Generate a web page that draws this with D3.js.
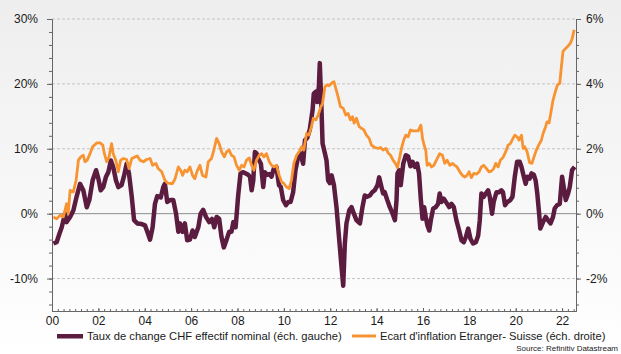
<!DOCTYPE html>
<html>
<head>
<meta charset="utf-8">
<script src="https://cdn.jsdelivr.net/npm/d3@7"></script>
<style>
  body { margin: 0; }
  svg { display: block; font-family: "Liberation Sans", Arial, sans-serif; }
</style>
</head>
<body>
<svg id="chart"></svg>
<script>
// CHF effective nominal exchange rate, % y/y (left scale)
const chfYears = [2000.06,2000.20,2000.32,2000.42,2000.56,2000.63,2000.78,2000.92,2001.06,2001.21,2001.35,2001.50,2001.61,2001.75,2001.90,
  2002.00,2002.10,2002.21,2002.33,2002.43,2002.54,2002.64,2002.76,2002.86,2003.00,2003.10,2003.22,2003.32,2003.44,2003.54,2003.68,2003.87,
  2004.01,2004.11,2004.23,2004.34,2004.44,2004.54,2004.69,2004.80,2004.87,2004.97,2005.09,2005.23,2005.35,2005.45,2005.52,2005.63,2005.73,
  2005.83,2005.95,2006.06,2006.16,2006.31,2006.41,2006.52,2006.64,2006.78,2006.90,2007.00,2007.10,2007.21,2007.31,2007.41,2007.53,2007.64,
  2007.74,2007.82,2007.92,2008.03,2008.13,2008.25,2008.36,2008.46,2008.54,2008.61,2008.68,2008.75,2008.82,2008.89,2009.01,2009.11,2009.18,
  2009.28,2009.37,2009.47,2009.57,2009.68,2009.79,2009.87,2009.97,2010.09,2010.19,2010.29,2010.40,2010.50,2010.62,2010.72,2010.83,2010.91,
  2011.01,2011.12,2011.24,2011.29,2011.38,2011.44,2011.51,2011.55,2011.62,2011.67,2011.77,2011.84,2011.91,2011.98,2012.06,2012.16,2012.27,
  2012.39,2012.49,2012.56,2012.63,2012.70,2012.82,2012.92,2013.02,2013.13,2013.28,2013.39,2013.49,2013.59,2013.71,2013.81,2013.92,2014.04,
  2014.11,2014.21,2014.28,2014.35,2014.46,2014.57,2014.69,2014.79,2014.86,2014.90,2014.97,2015.04,2015.15,2015.26,2015.36,2015.46,2015.55,
  2015.65,2015.75,2015.83,2015.91,2015.98,2016.05,2016.12,2016.19,2016.27,2016.34,2016.44,2016.55,2016.65,2016.72,2016.80,2016.90,2017.01,
  2017.13,2017.23,2017.33,2017.44,2017.56,2017.66,2017.76,2017.85,2017.95,2018.05,2018.16,2018.28,2018.38,2018.45,2018.52,2018.62,2018.71,
  2018.81,2018.88,2018.98,2019.05,2019.17,2019.28,2019.38,2019.45,2019.54,2019.64,2019.77,2019.86,2019.96,2020.06,2020.17,2020.25,2020.35,
  2020.43,2020.50,2020.60,2020.68,2020.78,2020.86,2020.93,2021.01,2021.06,2021.18,2021.29,2021.39,2021.50,2021.61,2021.68,2021.78,2021.90,
  2022.00,2022.07,2022.16,2022.26,2022.33,2022.43,2022.54];
const chfValues = [-4.6,-4.4,-3.1,-2.1,0.0,-1.3,-0.5,0.5,2.6,4.6,3.6,1.0,2.1,5.1,6.7,
  5.4,3.6,4.1,5.7,6.4,8.2,7.2,5.1,4.1,4.4,5.7,7.7,6.2,2.6,-1.0,-1.5,-1.6,
  -1.8,-2.8,-4.0,-2.1,1.5,2.7,2.5,4.1,4.6,1.8,2.1,2.1,0.0,-2.8,-1.5,-2.8,-1.5,
  -4.1,-4.0,-2.6,-3.6,-2.1,0.0,0.6,-0.5,-1.3,-0.8,-2.1,-0.5,-0.8,-3.6,-5.2,-4.0,-2.8,
  -2.8,-1.3,-2.1,2.8,6.2,6.4,6.2,6.0,5.7,3.6,5.1,9.5,9.3,8.5,7.7,4.1,6.4,
  6.0,6.1,5.7,7.0,7.2,4.4,4.1,2.1,1.3,1.8,1.8,3.3,6.7,8.8,9.3,7.7,11.3,
  11.7,13.0,16.0,18.5,18.8,17.2,19.6,23.2,16.5,10.8,9.3,8.2,5.1,4.7,5.9,4.4,1.0,
  -4.1,-8.3,-11.1,-4.6,-1.5,0.5,1.0,0.0,-1.0,-1.5,1.0,2.8,2.6,2.8,3.3,3.6,4.4,
  5.6,4.1,3.1,3.3,2.1,1.0,0.0,-1.0,2.1,6.2,6.7,4.4,7.7,9.0,8.8,7.3,8.0,
  7.2,7.7,6.2,2.1,-0.8,1.0,-0.5,-1.8,-2.6,-1.0,0.8,1.0,1.5,3.1,1.8,2.3,1.7,
  1.0,1.5,1.0,-1.0,-2.6,-4.1,-4.4,-3.6,-2.3,-3.9,-4.6,-4.4,-3.4,-1.0,3.1,2.6,3.1,
  3.6,2.6,0.0,1.8,3.3,3.3,3.6,3.3,1.3,1.8,2.1,2.6,5.7,8.0,8.0,7.2,5.7,
  4.6,5.7,5.4,6.2,6.0,5.1,3.1,0.0,-2.3,-1.3,-0.5,-1.0,-1.5,-0.5,0.8,1.3,1.5,
  5.7,4.1,2.1,3.1,4.1,6.7,7.2];

// Inflation gap abroad minus Switzerland, % (right scale)
const gapYears = [2000.06,2000.20,2000.35,2000.49,2000.63,2000.70,2000.78,2000.92,2001.04,2001.14,2001.24,2001.35,2001.42,2001.52,2001.64,
  2001.75,2001.93,2002.07,2002.19,2002.26,2002.36,2002.46,2002.57,2002.64,2002.75,2002.86,2002.96,2003.08,2003.22,2003.32,2003.44,2003.58,
  2003.68,2003.79,2003.94,2004.08,2004.23,2004.34,2004.48,2004.58,2004.73,2004.87,2004.97,2005.09,2005.20,2005.30,2005.45,2005.55,2005.63,
  2005.73,2005.83,2005.95,2006.06,2006.16,2006.26,2006.38,2006.49,2006.64,2006.74,2006.88,2006.98,2007.10,2007.21,2007.31,2007.43,2007.53,
  2007.64,2007.74,2007.85,2007.96,2008.08,2008.18,2008.28,2008.39,2008.51,2008.61,2008.71,2008.82,2008.94,2009.04,2009.14,2009.25,2009.37,
  2009.47,2009.58,2009.68,2009.80,2009.90,2010.00,2010.12,2010.23,2010.33,2010.43,2010.55,2010.66,2010.76,2010.86,2010.98,2011.08,2011.19,
  2011.27,2011.38,2011.48,2011.60,2011.67,2011.77,2011.87,2011.95,2012.06,2012.16,2012.24,2012.34,2012.44,2012.56,2012.67,2012.77,2012.87,
  2012.96,2013.03,2013.13,2013.25,2013.35,2013.45,2013.56,2013.68,2013.78,2013.92,2014.07,2014.17,2014.28,2014.40,2014.50,2014.60,2014.71,
  2014.81,2014.90,2015.00,2015.07,2015.17,2015.26,2015.36,2015.46,2015.58,2015.69,2015.79,2015.91,2015.98,2016.05,2016.12,2016.18,2016.27,
  2016.37,2016.47,2016.58,2016.72,2016.84,2016.94,2017.04,2017.16,2017.27,2017.37,2017.47,2017.59,2017.70,2017.80,2017.90,2017.99,2018.09,
  2018.19,2018.31,2018.42,2018.52,2018.62,2018.74,2018.85,2018.95,2019.05,2019.14,2019.24,2019.34,2019.45,2019.57,2019.67,2019.77,2019.86,
  2019.96,2020.06,2020.14,2020.25,2020.32,2020.39,2020.49,2020.60,2020.70,2020.79,2020.89,2020.99,2021.11,2021.18,2021.29,2021.35,2021.44,
  2021.51,2021.61,2021.71,2021.80,2021.90,2021.97,2022.04,2022.16,2022.26,2022.36,2022.44,2022.52];
const gapValues = [-0.10,-0.16,-0.05,-0.10,0.31,0.00,0.72,0.67,1.03,1.65,1.75,1.80,1.60,1.65,1.85,
  2.06,2.18,2.18,2.11,1.85,1.60,1.75,2.16,1.85,1.65,1.29,1.65,1.70,1.67,1.39,1.70,1.75,
  1.78,1.65,1.60,1.67,1.70,1.49,1.55,1.39,1.29,1.03,0.95,0.93,0.93,1.06,1.44,1.34,1.18,
  1.34,1.29,1.44,1.18,1.08,1.31,1.49,1.18,1.13,1.60,1.70,1.96,2.32,2.16,1.91,1.75,1.91,
  1.96,1.80,1.75,1.49,1.34,1.49,1.44,1.65,1.72,1.49,1.34,1.65,1.80,1.85,1.75,1.85,1.60,
  1.49,1.44,1.49,1.18,0.98,0.93,0.82,0.77,1.03,1.55,1.80,1.91,2.06,1.96,2.47,2.42,2.68,
  2.94,2.89,3.04,3.30,3.40,3.91,3.97,3.94,4.02,4.07,3.86,3.60,3.30,3.25,3.04,3.09,2.89,
  2.99,2.79,2.94,2.68,2.63,2.58,2.42,2.32,2.11,2.04,2.01,2.04,1.96,2.01,1.87,1.80,1.65,
  1.55,1.42,1.75,2.01,2.27,2.42,2.37,2.58,2.55,2.55,2.55,2.73,2.32,2.11,1.96,1.49,1.55,
  1.44,1.49,1.65,1.85,1.80,1.55,1.65,1.49,1.55,1.49,1.44,1.29,1.18,1.13,1.18,1.29,1.11,
  1.24,1.22,1.29,1.44,1.49,1.39,1.29,1.31,1.39,1.55,1.44,1.65,1.73,1.91,2.11,2.16,2.29,
  2.42,2.37,2.27,2.42,2.01,2.06,1.91,1.57,1.55,1.75,1.96,2.11,2.27,2.47,2.68,2.83,2.80,
  3.09,3.50,3.76,3.97,4.02,4.53,5.00,5.10,5.17,5.26,5.41,5.67];

const leftLabels = [-10, 0, 10, 20, 30];
const rightLabels = [-2, 0, 2, 4, 6];
const yearLabels = [2000, 2002, 2004, 2006, 2008, 2010, 2012, 2014, 2016, 2018, 2020, 2022];
const seriesNames = ["Taux de change CHF effectif nominal (éch. gauche)", "Ecart d'inflation Etranger- Suisse (éch. droite)"];
const sourceText = "Source: Refinitiv Datastream";

const width = 621, height = 354;
const plotLeft = 52, plotRight = 576, plotTop = 19, plotBottom = 311;
const purple = "#5b1c40", orange = "#f79431";

const svg = d3.select("#chart").attr("width", width).attr("height", height);

const grad = svg.append("defs").append("linearGradient")
  .attr("id", "bg").attr("x1", 0).attr("y1", 0).attr("x2", 0).attr("y2", 1);
grad.append("stop").attr("offset", "0%").attr("stop-color", "#eeeeee");
grad.append("stop").attr("offset", "100%").attr("stop-color", "#ffffff");
svg.append("rect").attr("width", width).attr("height", height).attr("fill", "url(#bg)");

const x = d3.scaleLinear().domain([2000, 2022.6]).range([plotLeft, plotRight]);
const yL = d3.scaleLinear().domain([-15, 30]).range([plotBottom, plotTop]);
const yR = d3.scaleLinear().domain([-3, 6]).range([plotBottom, plotTop]);

// grid
svg.append("g").selectAll("line")
  .data(leftLabels.filter(d => d !== 0)).enter()
  .append("line")
  .attr("x1", plotLeft).attr("x2", plotRight)
  .attr("y1", d => yL(d)).attr("y2", d => yL(d))
  .attr("stroke", "#c4c4c4").attr("stroke-dasharray", "3,2");
svg.append("line")
  .attr("x1", plotLeft).attr("x2", plotRight)
  .attr("y1", yL(0)).attr("y2", yL(0))
  .attr("stroke", "#8c8c8c");

function styleAxis(g) {
  g.select(".domain").attr("stroke", "#666");
  g.selectAll(".tick line").attr("stroke", "#666");
  g.selectAll("text").attr("fill", "#1a1a1a").attr("font-size", 12).attr("font-family", "Liberation Sans, Arial, sans-serif");
}

// left axis
svg.append("g").attr("transform", `translate(${plotLeft},0)`)
  .call(d3.axisLeft(yL).tickValues(d3.range(-7, 16).map(i => i * 2)).tickSize(3).tickSizeOuter(0).tickFormat(""))
  .call(styleAxis);
svg.append("g").attr("transform", `translate(${plotLeft},0)`)
  .call(d3.axisLeft(yL).tickValues(leftLabels).tickSize(5).tickSizeOuter(0).tickPadding(9).tickFormat(d => d + "%"))
  .call(styleAxis);

// right axis
svg.append("g").attr("transform", `translate(${plotRight},0)`)
  .call(d3.axisRight(yR).tickValues(d3.range(-7, 16).map(i => i * 0.4)).tickSize(3).tickSizeOuter(0).tickFormat(""))
  .call(styleAxis);
svg.append("g").attr("transform", `translate(${plotRight},0)`)
  .call(d3.axisRight(yR).tickValues(rightLabels).tickSize(5).tickSizeOuter(0).tickPadding(5).tickFormat(d => d + "%"))
  .call(styleAxis);

// bottom axis
svg.append("g").attr("transform", `translate(0,${plotBottom})`)
  .call(d3.axisBottom(x).tickValues(d3.range(0, 91).map(i => 2000 + i * 0.25)).tickSize(-2).tickSizeOuter(0).tickFormat(""))
  .call(styleAxis);
svg.append("g").attr("transform", `translate(0,${plotBottom})`)
  .call(d3.axisBottom(x).tickValues(yearLabels).tickSize(-3).tickSizeOuter(0).tickPadding(5)
    .tickFormat(d => String(d).slice(2)))
  .call(styleAxis);

// lines
const chfData = chfYears.map((t, i) => [t, chfValues[i]]);
const gapData = gapYears.map((t, i) => [t, gapValues[i]]);

svg.append("path").datum(chfData)
  .attr("fill", "none").attr("stroke", purple).attr("stroke-width", 4.5)
  .attr("stroke-linejoin", "round")
  .attr("d", d3.line().x(d => x(d[0])).y(d => yL(d[1])));
svg.append("path").datum(gapData)
  .attr("fill", "none").attr("stroke", orange).attr("stroke-width", 2.8)
  .attr("stroke-linejoin", "round")
  .attr("d", d3.line().x(d => x(d[0])).y(d => yR(d[1])));

// legend
const legend = svg.append("g").attr("font-size", 11.2).attr("fill", "#1a1a1a");
legend.append("rect").attr("x", 57).attr("y", 334).attr("width", 26).attr("height", 4.5).attr("fill", purple);
legend.append("text").attr("x", 87).attr("y", 340).text(seriesNames[0]);
legend.append("rect").attr("x", 352).attr("y", 334.5).attr("width", 24).attr("height", 3).attr("fill", orange);
legend.append("text").attr("x", 380).attr("y", 340).text(seriesNames[1]);

svg.append("text").attr("x", 618).attr("y", 351).attr("text-anchor", "end")
  .attr("font-size", 8).attr("fill", "#222").text(sourceText);
</script>
</body>
</html>
